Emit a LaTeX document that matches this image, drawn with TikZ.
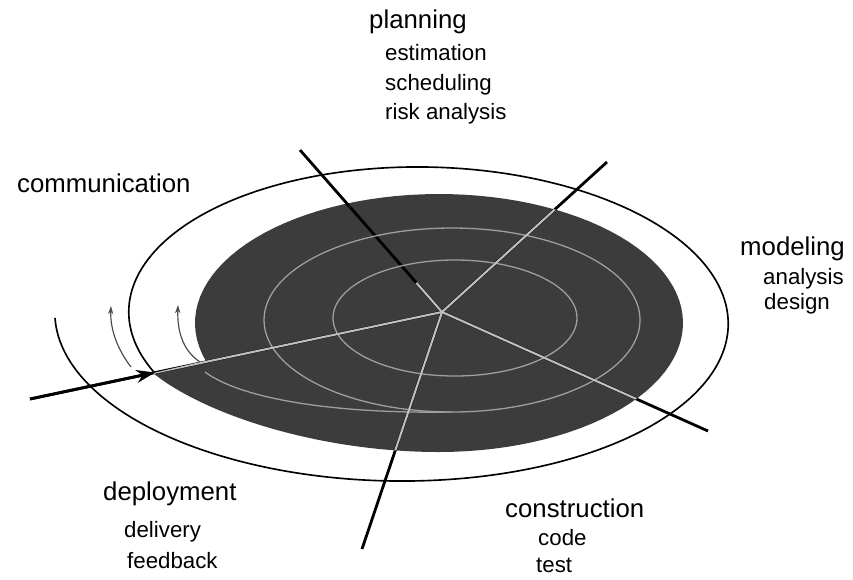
\documentclass[tikz,border=0pt]{standalone}
\usepackage{fontspec}
\setmainfont{Liberation Sans}
\usetikzlibrary{arrows.meta,calc}
\definecolor{discgray}{RGB}{60,60,60}
\begin{document}
\begin{tikzpicture}[x=0.03cm,y=-0.03cm,
  mainlbl/.style={anchor=base west,inner sep=0pt,font=\fontsize{22}{26}\selectfont},
  sublbl/.style={anchor=base west,inner sep=0pt,font=\fontsize{19}{23}\selectfont},
  spoke/.style={line width=2.4pt,black},
  lightspoke/.style={line width=1.8pt,gray!50},
  ring/.style={line width=1.1pt,gray!75},
  smallarc/.style={line width=1pt,black!70,-{Stealth[length=7pt,width=4.5pt]}}]
\useasboundingbox (0,0) rectangle (853,579);
% named points
\coordinate (C) at (442,312);
\coordinate (ul) at (300,150);
\coordinate (ur) at (607,162);
\coordinate (lr) at (708,431);
\coordinate (bt) at (362,549);
\coordinate (in) at (30,399);
\coordinate (tip) at (155,372.5);
\coordinate (a1s) at (131,367);
\coordinate (a1e) at (111,306);
\coordinate (a2s) at (200,362);
\coordinate (a2e) at (178,305);
% gray disc with tail
\fill[discgray] (153,373) .. controls (205,415) and (320,452) .. (439,452)
  -- plot[domain=90:-197,samples=90] ({439+244*cos(\x)},{323+129*sin(\x)}) -- cycle;
% outer spiral
\draw[line width=1.4pt] plot[domain=180:562,samples=220,smooth]
  ({410+(355-37*(\x-180)/180)*cos(\x)},{318-(169-12*(\x-180)/180)*sin(\x)});
% spokes
\draw[spoke] (ul) -- (C);
\draw[spoke] (C) -- (ur);
\draw[spoke] (C) -- (lr);
\draw[spoke] (C) -- (bt);
\draw[spoke] (in) -- (C);
% light parts inside the disc
\begin{scope}
\clip (153,373) .. controls (205,415) and (320,452) .. (439,452)
  -- plot[domain=90:-197,samples=90] ({439+244*cos(\x)},{323+129*sin(\x)}) -- cycle;
\draw[ring] (452,320) ellipse [x radius=188, y radius=92];
\draw[ring] (455,318) ellipse [x radius=122, y radius=58];
\draw[ring] (452,412) .. controls (330,414) and (240,398) .. (205,372);
\draw[lightspoke] (C) -- (ur);
\draw[lightspoke] (C) -- (lr);
\draw[lightspoke] (C) -- (bt);
\draw[lightspoke] (in) -- (C);
\draw[lightspoke] (C) -- ($(C)!0.18!(ul)$);
\end{scope}
% arrowhead on entry line
\draw[line width=2.4pt,-{Stealth[length=16pt,width=11pt]}] (in) -- (tip);
% small arcs
\draw[smallarc] (a1s) .. controls (118,350) and (110,330) .. (a1e);
\draw[smallarc] (a2s) .. controls (185,352) and (177,335) .. (a2e);
% labels
\node[mainlbl] (planning) at (369,28) {planning};
\node[sublbl] (estimation) at (385,60) {estimation};
\node[sublbl] (scheduling) at (385,90) {scheduling};
\node[sublbl] (risk) at (385,119) {risk analysis};
\node[mainlbl] (communication) at (17,192) {communication};
\node[mainlbl] (modeling) at (740,255) {modeling};
\node[sublbl] (analysis) at (763,284) {analysis};
\node[sublbl] (design) at (764,309) {design};
\node[mainlbl] (deployment) at (103,500) {deployment};
\node[sublbl] (delivery) at (124,537) {delivery};
\node[sublbl] (feedback) at (127,568) {feedback};
\node[mainlbl] (construction) at (505,517) {construction};
\node[sublbl] (code) at (538,545) {code};
\node[sublbl] (test) at (536,572) {test};
\end{tikzpicture}
\end{document}
